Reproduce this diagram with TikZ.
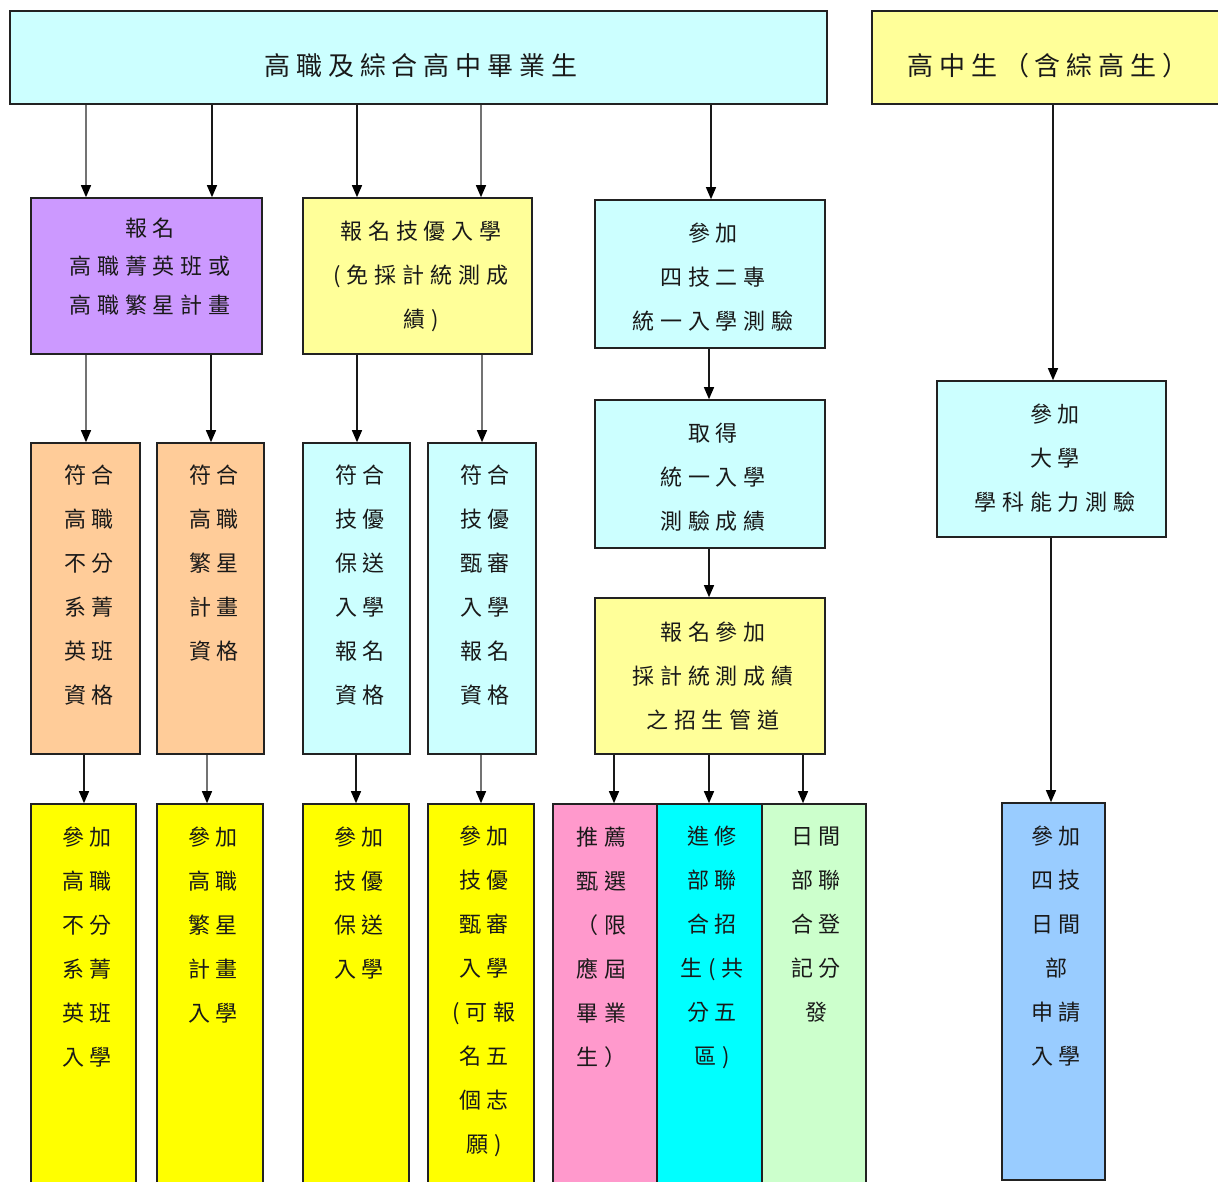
\documentclass[tikz,border=0pt]{standalone}
\usepackage{fontspec}
\newfontfamily\cjk[LetterSpace=27]{Noto Sans CJK TC}
\newfontfamily\cjkt[LetterSpace=23]{Noto Sans CJK TC}
\usetikzlibrary{arrows.meta}
\definecolor{lcyan}{HTML}{CCFFFF}
\definecolor{lyel}{HTML}{FFFF99}
\definecolor{purp}{HTML}{CC99FF}
\definecolor{orng}{HTML}{FFCC99}
\definecolor{byel}{HTML}{FFFF00}
\definecolor{pink}{HTML}{FF99CC}
\definecolor{bcyan}{HTML}{00FFFF}
\definecolor{lgrn}{HTML}{CCFFCC}
\definecolor{lblu}{HTML}{99CCFF}
\definecolor{bord}{HTML}{222222}
\begin{document}
\begin{tikzpicture}[x=1pt,y=-1pt,
  box/.style={draw=bord, line width=1.6pt, inner sep=0pt, rectangle},
  txt/.style={inner sep=0pt, align=center, xshift=3pt, text=black!90,
    font={\cjk\fontsize{22}{44}\selectfont}},
  ttl/.style={inner sep=0pt, xshift=3pt, text=black!90,
    font={\cjkt\fontsize{26}{34}\selectfont}},
  arr/.style={draw=black!90, line width=1.3pt, -{Triangle[length=12pt,width=10pt,color=black]}},
  arrg/.style={arr, draw=black!55}]
\useasboundingbox (0,0) rectangle (1218,1182);
\clip (0,0) rectangle (1218,1182);
% column coordinates
\foreach \n/\v in {a/86,b/212,c/357,d/481,e/711,f/1053,g/211,h/482,i/709,j/84,k/207,l/356,m/614,n/803,o/1051}
  {\coordinate (x\n) at (\v,0);}
% top row
\node[box, fill=lcyan, minimum width=817pt, minimum height=93pt] (top) at (418.5,57.5) {};
\node[ttl] (toptxt) at (418,66) {高職及綜合高中畢業生};
\node[box, fill=lyel, minimum width=368pt, minimum height=93pt] (topR) at (1056,57.5) {};
\node[ttl] (topRtxt) at (1045,66) {高中生（含綜高生）};
% second row
\node[box, fill=purp, minimum width=231pt, minimum height=156pt] (pur) at (146.5,276) {};
\node[txt, font={\cjk\fontsize{22}{38.5}\selectfont}] at (147,266.5) {報名\\高職菁英班或\\高職繁星計畫};
\node[box, fill=lyel, minimum width=229pt, minimum height=156pt] (yel) at (417.5,276) {};
\node[txt] at (418,276) {報名技優入學\\(免採計統測成\\績)};
\node[box, fill=lcyan, minimum width=230pt, minimum height=148pt] (tc) at (710,274) {};
\node[txt] at (710,277) {參加\\四技二專\\統一入學測驗};
\node[box, fill=lcyan, minimum width=230pt, minimum height=148pt] (get) at (710,474) {};
\node[txt] at (710,477) {取得\\統一入學\\測驗成績};
\node[box, fill=lyel, minimum width=230pt, minimum height=156pt] (reg) at (710,676) {};
\node[txt] at (710,676) {報名參加\\採計統測成績\\之招生管道};
\node[box, fill=lcyan, minimum width=229pt, minimum height=156pt] (uni) at (1051.5,459) {};
\node[txt] at (1052,458.5) {參加\\大學\\學科能力測驗};
% third row
\node[box, fill=orng, minimum width=109pt, minimum height=311pt] (o1) at (85.5,598.5) {};
\node[txt] at (86,585) {符合\\高職\\不分\\系菁\\英班\\資格};
\node[box, fill=orng, minimum width=107pt, minimum height=311pt] (o2) at (210.5,598.5) {};
\node[txt] at (211,563) {符合\\高職\\繁星\\計畫\\資格};
\node[box, fill=lcyan, minimum width=107pt, minimum height=311pt] (c1) at (356.5,598.5) {};
\node[txt] at (357,585) {符合\\技優\\保送\\入學\\報名\\資格};
\node[box, fill=lcyan, minimum width=108pt, minimum height=311pt] (c2) at (482,598.5) {};
\node[txt] at (482,585) {符合\\技優\\甄審\\入學\\報名\\資格};
% bottom row
\node[box, fill=byel, minimum width=105pt, minimum height=446pt] (y1) at (83.5,1027) {};
\node[txt] at (84,947) {參加\\高職\\不分\\系菁\\英班\\入學};
\node[box, fill=byel, minimum width=106pt, minimum height=446pt] (y2) at (210,1027) {};
\node[txt] at (210,925) {參加\\高職\\繁星\\計畫\\入學};
\node[box, fill=byel, minimum width=106pt, minimum height=446pt] (y3) at (356,1027) {};
\node[txt] at (356,903) {參加\\技優\\保送\\入學};
\node[box, fill=byel, minimum width=106pt, minimum height=446pt] (y4) at (481,1027) {};
\node[txt] at (481,991) {參加\\技優\\甄審\\入學\\(可報\\名五\\個志\\願)};
\node[box, fill=pink, minimum width=104pt, minimum height=446pt] (pk) at (605,1027) {};
\node[txt, align=left, anchor=west, xshift=0pt] at (573,947) {推薦\\甄選\\（限\\應屆\\畢業\\生）};
\node[box, fill=bcyan, minimum width=105pt, minimum height=446pt] (cy) at (709.5,1027) {};
\node[txt] at (709,947) {進修\\部聯\\合招\\生(共\\分五\\區)};
\node[box, fill=lgrn, minimum width=104pt, minimum height=446pt] (gr) at (814,1027) {};
\node[txt] at (813,925) {日間\\部聯\\合登\\記分\\發};
\node[box, fill=lblu, minimum width=103pt, minimum height=377pt] (bl) at (1053.5,991.5) {};
\node[txt] at (1053,946) {參加\\四技\\日間\\部\\申請\\入學};
% connectors
\draw[arrg] (top.south -| xa) -- (pur.north -| xa);
\draw[arr]  (top.south -| xb) -- (pur.north -| xb);
\draw[arr]  (top.south -| xc) -- (yel.north -| xc);
\draw[arrg] (top.south -| xd) -- (yel.north -| xd);
\draw[arr]  (top.south -| xe) -- (tc.north -| xe);
\draw[arr]  (topR.south -| xf) -- (uni.north -| xf);
\draw[arrg] (pur.south -| xa) -- (o1.north -| xa);
\draw[arr]  (pur.south -| xg) -- (o2.north -| xg);
\draw[arr]  (yel.south -| xc) -- (c1.north -| xc);
\draw[arrg] (yel.south -| xh) -- (c2.north -| xh);
\draw[arr]  (tc.south -| xi) -- (get.north -| xi);
\draw[arr]  (get.south -| xi) -- (reg.north -| xi);
\draw[arr]  (o1.south -| xj) -- (y1.north -| xj);
\draw[arrg] (o2.south -| xk) -- (y2.north -| xk);
\draw[arr]  (c1.south -| xl) -- (y3.north -| xl);
\draw[arrg] (c2.south -| xd) -- (y4.north -| xd);
\draw[arr]  (reg.south -| xm) -- (pk.north -| xm);
\draw[arr]  (reg.south -| xi) -- (cy.north -| xi);
\draw[arr]  (reg.south -| xn) -- (gr.north -| xn);
\draw[arr]  (uni.south -| xo) -- (bl.north -| xo);
\end{tikzpicture}
\end{document}
